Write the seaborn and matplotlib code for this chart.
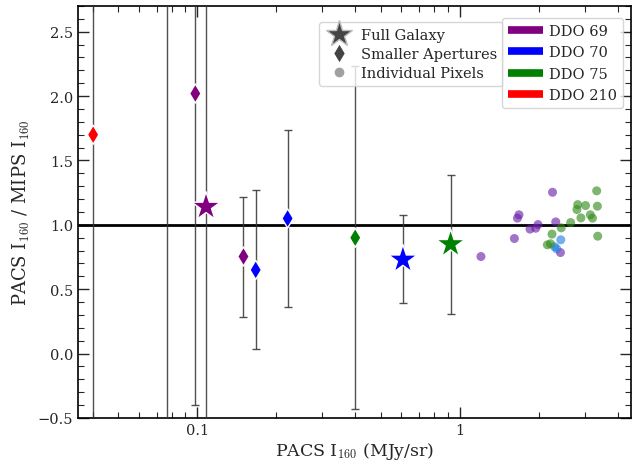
import numpy as np
import pandas as pd
import matplotlib
matplotlib.use("Agg")
import matplotlib.pyplot as plt
from matplotlib.lines import Line2D
import seaborn as sns

# ---- data ----
galaxies = ["DDO 69", "DDO 70", "DDO 75", "DDO 210"]
gal_colors = ["purple", "blue", "green", "red"]
pix_colors = {"DDO 69": "#6a1fa8", "DDO 70": "#1f7fe0", "DDO 75": "#2f8a18"}

# Full galaxy (stars)
full_gal = ["DDO 69", "DDO 70", "DDO 75", "DDO 210"]
full_x = [0.108, 0.608, 0.924, 0.0767]
full_y = [1.14, 0.73, 0.85, 3.3]
full_lo = [-3.0, 0.39, 0.31, -3.0]
full_hi = [5.0, 1.08, 1.39, 9.0]

# Smaller apertures (diamonds)
ap_gal = ["DDO 69", "DDO 69", "DDO 70", "DDO 70", "DDO 75", "DDO 210"]
ap_x = [0.0983, 0.150, 0.167, 0.221, 0.400, 0.0401]
ap_y = [2.02, 0.754, 0.65, 1.05, 0.90, 1.70]
ap_lo = [-0.40, 0.287, 0.036, 0.36, -0.43, -3.0]
ap_hi = [5.0, 1.22, 1.27, 1.74, 2.23, 5.0]

# Individual pixels
pix69_x = [2.26, 1.684, 1.661, 1.990, 1.950, 1.855, 2.325, 1.617, 1.206, 2.423]
pix69_y = [1.253, 1.078, 1.052, 1.002, 0.974, 0.967, 1.023, 0.894, 0.754, 0.785]
pix70_x = [2.43, 2.345, 2.30]
pix70_y = [0.884, 0.814, 0.83]
pix75_x = [3.33, 2.82, 3.02, 3.35, 2.80, 3.15, 2.90, 3.21, 2.65, 2.44, 2.25, 3.36, 2.22, 2.16]
pix75_y = [1.264, 1.157, 1.150, 1.145, 1.119, 1.078, 1.054, 1.052, 1.018, 0.977,
           0.928, 0.912, 0.853, 0.845]

xticks = [0.1, 1]
xticklabels = ["0.1", "1"]
yticks = [-0.5, 0.0, 0.5, 1.0, 1.5, 2.0, 2.5]

# ---- style ----
sns.set_style("ticks")
plt.rcParams["font.family"] = ["DejaVu Serif"]
plt.rcParams["mathtext.fontset"] = "cm"

fig = plt.figure(figsize=(6.32, 4.64), dpi=100)
ax = fig.add_axes([0.1234, 0.097, 0.875, 0.888])

cmap = dict(zip(galaxies, gal_colors))

ax.axhline(1.0, color="black", lw=2, zorder=2)

# error bars + markers
for g, x, y, lo, hi in zip(ap_gal, ap_x, ap_y, ap_lo, ap_hi):
    ax.errorbar([x], [y], yerr=[[y - lo], [hi - y]], fmt="none", ecolor="#333333",
                elinewidth=1, capsize=3, alpha=0.85, zorder=3)
for g, x, y, lo, hi in zip(full_gal, full_x, full_y, full_lo, full_hi):
    ax.errorbar([x], [y], yerr=[[y - lo], [hi - y]], fmt="none", ecolor="#333333",
                elinewidth=1, capsize=3, alpha=0.85, zorder=3)

df_ap = pd.DataFrame({"x": ap_x, "y": ap_y, "gal": ap_gal})
df_full = pd.DataFrame({"x": full_x, "y": full_y, "gal": full_gal})
sns.scatterplot(data=df_ap, x="x", y="y", hue="gal", palette=cmap, marker="d",
                s=95, edgecolor="white", linewidth=1, legend=False, ax=ax, zorder=5)
sns.scatterplot(data=df_full, x="x", y="y", hue="gal", palette=cmap, marker="*",
                s=470, edgecolor="white", linewidth=1, legend=False, ax=ax, zorder=5)

df_pix = pd.DataFrame({
    "x": pix69_x + pix70_x + pix75_x,
    "y": pix69_y + pix70_y + pix75_y,
    "gal": ["DDO 69"] * len(pix69_x) + ["DDO 70"] * len(pix70_x) + ["DDO 75"] * len(pix75_x),
})
sns.scatterplot(data=df_pix, x="x", y="y", hue="gal", palette=pix_colors, marker="o",
                s=42, alpha=0.62, linewidth=0, legend=False, ax=ax, zorder=4)

ax.set_xscale("log")
ax.set_xlim(0.0351, 4.5)
ax.set_ylim(-0.5, 2.7)
ax.set_xticks(xticks)
ax.set_xticklabels(xticklabels)
ax.set_yticks(yticks)
ax.yaxis.set_minor_locator(matplotlib.ticker.MultipleLocator(0.1))
ax.tick_params(which="both", direction="in", top=True, right=True, labelsize=10.5)
ax.tick_params(which="major", length=8, width=1)
ax.tick_params(which="minor", length=4, width=0.8)
for s in ax.spines.values():
    s.set_linewidth(1.2)
    s.set_color("black")

ax.set_xlabel(r"PACS I$_{160}$ (MJy/sr)", fontsize=12.5, labelpad=2)
ax.set_ylabel(r"PACS I$_{160}$ / MIPS I$_{160}$", fontsize=13)

# legends
h1 = [Line2D([], [], ls="none", marker="*", ms=20, color="#444444", mec="#bbbbbb"),
      Line2D([], [], ls="none", marker="d", ms=10, color="#444444", mec="white"),
      Line2D([], [], ls="none", marker="o", ms=7, color="#888888", alpha=0.8, mec="none")]
leg1 = ax.legend(h1, ["Full Galaxy", "Smaller Apertures", "Individual Pixels"],
                 loc="upper right", bbox_to_anchor=(0.769, 0.960), borderaxespad=0,
                 fontsize=10.5, handletextpad=0.5, labelspacing=0.35, framealpha=0.8)
ax.add_artist(leg1)
h2 = [Line2D([], [], color=c, lw=5.5, solid_capstyle="butt") for c in gal_colors]
ax.legend(h2, galaxies, loc="upper right", bbox_to_anchor=(0.985, 0.970), borderaxespad=0,
          fontsize=10.5, handlelength=2.4, handletextpad=0.4, labelspacing=0.5,
          framealpha=0.8)

fig.savefig("out.png", dpi=100)
